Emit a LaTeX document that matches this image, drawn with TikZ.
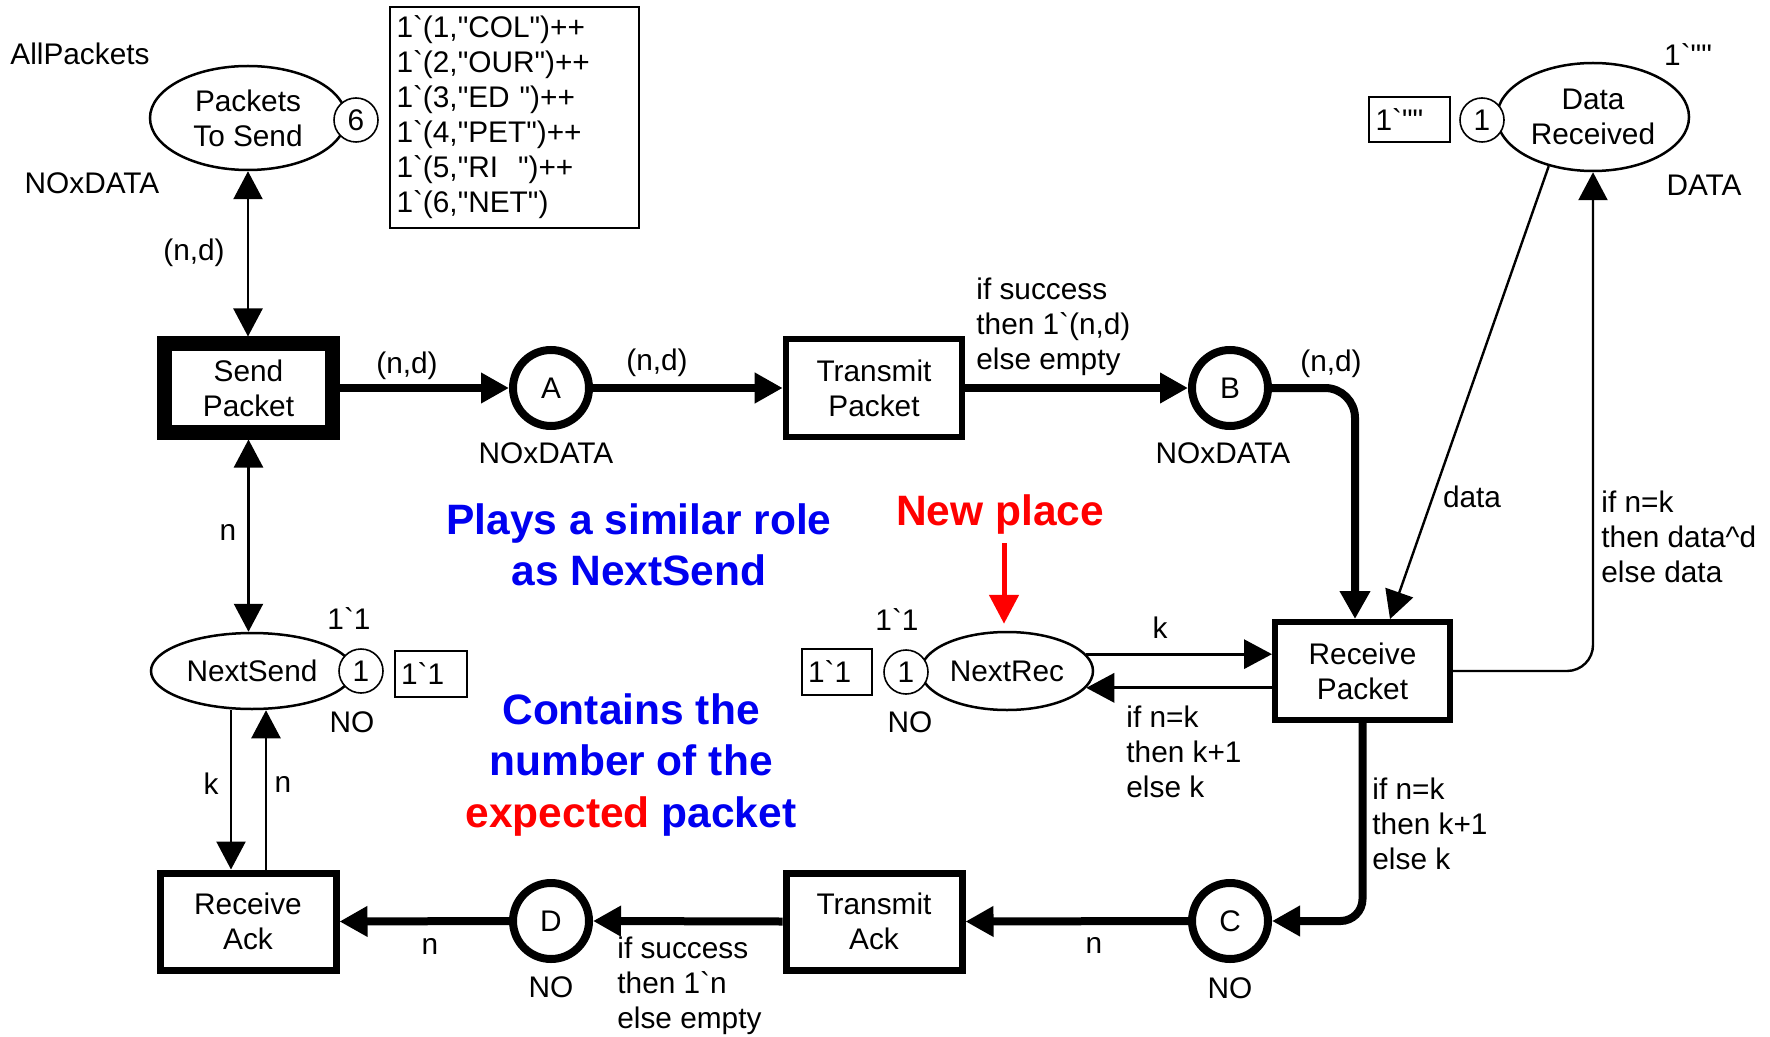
\documentclass[tikz,border=0pt]{standalone}
\usepackage{fontspec}
\setmainfont{Liberation Sans}[Ligatures=TeXOff]
\usetikzlibrary{arrows.meta,shapes.geometric}
\newcommand\bq{\textasciigrave}
\definecolor{cpnblue}{RGB}{0,0,240}
\definecolor{cpnred}{RGB}{255,0,0}
\begin{document}
\begin{tikzpicture}[x=0.5pt,y=-0.5pt,
  every node/.style={font=\fontsize{14.9}{17.5}\selectfont, inner sep=0pt},
  tipend/.style={-{Triangle[length=14pt,width=14.5pt]}},
  tipboth/.style={{Triangle[length=14pt,width=14.5pt]}-{Triangle[length=14pt,width=14.5pt]}},
  thickarc/.style={line width=4pt},
  thinarc/.style={line width=1.2pt},
  midarc/.style={line width=1.6pt},
  transbox/.style={draw, rectangle, line width=3.3pt, minimum width=88pt, minimum height=49pt, align=center},
  placecirc/.style={draw, circle, line width=4pt, minimum size=38pt},
  placeell/.style={draw, ellipse, line width=1.25pt, align=center},
  tokencirc/.style={draw, circle, line width=0.8pt, fill=white, minimum size=22pt},
  markbox/.style={draw, rectangle, line width=1pt, align=left, inner xsep=3pt},
  bigtext/.style={font=\fontsize{21.25}{25.75}\selectfont\bfseries, align=center}
]
\useasboundingbox (0,0) rectangle (1770,1037);

% ---------- places ----------
\node[placeell, minimum width=98pt, minimum height=52pt] (pts) at (248,118) {Packets\\To Send};
\node[tokencirc] (t6) at (356,120) {6};
\node[markbox, minimum width=124.5pt, minimum height=110.5pt, text width=118pt] (m1) at (514.5,117.5)
 {1\bq(1,"COL")++\\1\bq(2,"OUR")++\\1\bq(3,"ED\ ")++\\1\bq(4,"PET")++\\1\bq(5,"RI\ \ ")++\\1\bq(6,"NET")};
\node (allp) at (80,54) {AllPackets};
\node (ptsty) at (92,183) {NOxDATA};

\node[placeell, minimum width=96pt, minimum height=54pt] (dr) at (1593,117) {Data\\Received};
\node[tokencirc] (t1dr) at (1482,120) {1};
\node[markbox, minimum width=40.5pt, minimum height=22.5pt, text width=34pt] (m2) at (1409.5,119.5) {1\bq""};
\node (drinit) at (1688,55) {1\bq""};
\node (drty) at (1704,185) {DATA};

\node[placecirc] (A) at (551,388) {A};
\node (aty) at (546,453) {NOxDATA};
\node[placecirc] (B) at (1230,388) {B};
\node (bty) at (1223,453) {NOxDATA};
\node[placecirc] (C) at (1230,921) {C};
\node (cty) at (1230,988) {NO};
\node[placecirc] (D) at (551,921) {D};
\node (dty) at (551,987) {NO};

\node[placeell, minimum width=101pt, minimum height=38pt] (ns) at (252,671) {NextSend};
\node[tokencirc] (t1ns) at (361,671) {1};
\node[markbox, minimum width=36pt, minimum height=23pt, text width=30pt] (m3) at (431,674) {1\bq1};
\node (nsinit) at (349,619) {1\bq1};
\node (nsty) at (352,722) {NO};

\node[placeell, minimum width=86pt, minimum height=39pt] (nr) at (1007,671) {NextRec};
\node[tokencirc] (t1nr) at (906,672) {1};
\node[markbox, minimum width=35pt, minimum height=23pt, text width=29pt] (m4) at (837,672) {1\bq1};
\node (nrinit) at (897,620) {1\bq1};
\node (nrty) at (910,722) {NO};

% ---------- transitions ----------
\node[transbox, line width=7.5pt, minimum width=84pt, minimum height=44pt] (sp) at (248.5,388) {Send\\Packet};
\node[transbox] (tp) at (874,388) {Transmit\\Packet};
\node[transbox, line width=3pt, minimum width=87.5pt, minimum height=49pt] (rp) at (1362.5,671) {Receive\\Packet};
\node[transbox, line width=3.5pt, minimum height=48.5pt] (ta) at (874,921.5) {Transmit\\Ack};
\node[transbox, line width=3.5pt, minimum height=48.5pt] (ra) at (248,921.5) {Receive\\Ack};

% ---------- helper coordinates ----------
\coordinate (bx) at (1355,0);
\coordinate (dtx) at (1390,0);
\coordinate (kx) at (231,0);
\coordinate (nx) at (266,0);
\coordinate (rx) at (1004,0);

% ---------- arcs ----------
\draw[thinarc, tipboth] (pts.south) -- (pts.south |- sp.north);
\draw[thickarc, tipend] (sp.east) -- (A.west);
\draw[thickarc, tipend] (A.east) -- (tp.west);
\draw[thickarc, tipend] (tp.east) -- (B.west);
\draw[thickarc, tipend, rounded corners=15pt] (B.east) -| (bx |- rp.north);
\draw[thinarc, tipend] (dr.228) -- (dtx |- rp.north);
\draw[thinarc, tipend, rounded corners=13pt] (rp.east) -| (dr.south);
\draw[midarc, tipend] (nr.12) -- (nr.12 -| rp.west);
\draw[midarc, tipend] (nr.348 -| rp.west) -- (nr.348);
\draw[thinarc, tipboth] (sp.south) -- (sp.south |- ns.north);
\draw[thinarc, tipend] (ns.south -| kx) -- (ra.north -| kx);
\draw[thinarc, tipend] (ra.north -| nx) -- (ns.south -| nx);
\draw[thickarc, tipend, rounded corners=11pt] (rp.south) |- (C.east);
\draw[thickarc, tipend] (C.west) -- (ta.east);
\draw[thickarc, tipend] (ta.west) -- (D.east);
\draw[thickarc, tipend] (D.west) -- (ra.east);

% ---------- inscriptions ----------
\node (i1) at (194,253) {(n,d)};
\node (i2) at (407,366) {(n,d)};
\node (i3) at (657,363) {(n,d)};
\node[anchor=west, align=left] (i4) at (976,327) {if success\\then 1\bq(n,d)\\else empty};
\node (i5) at (1331,364) {(n,d)};
\node (i6) at (1472,497) {data};
\node[anchor=west, align=left] (i7) at (1601,537) {if n=k\\then data\textasciicircum d\\else data};
\node (i8) at (1160,628) {k};
\node[anchor=west, align=left] (i9) at (1126,752) {if n=k\\then k+1\\else k};
\node[anchor=west, align=left] (i10) at (1372,824) {if n=k\\then k+1\\else k};
\node (i11) at (1094,945) {n};
\node[anchor=west, align=left] (i12) at (617,986) {if success\\then 1\bq n\\else empty};
\node (i13) at (430,946) {n};
\node (i14) at (211,784) {k};
\node (i15) at (283,784) {n};
\node (i16) at (228,532) {n};

% ---------- annotations ----------
\node[bigtext, text=cpnblue] (note1) at (639,545) {Plays a similar role\\as NextSend};
\node[bigtext, text=cpnblue] (note2) at (631,765) {Contains the\\number of the\\{\color{cpnred}expected} packet};
\node[bigtext, text=cpnred] (np) at (1000,515) {New place};
\draw[cpnred, line width=2.5pt, -{Triangle[length=14.5pt,width=14.5pt]}, shorten <=4pt, shorten >=3.5pt] (np.south -| rx) -- (nr.north -| rx);
\end{tikzpicture}
\end{document}
